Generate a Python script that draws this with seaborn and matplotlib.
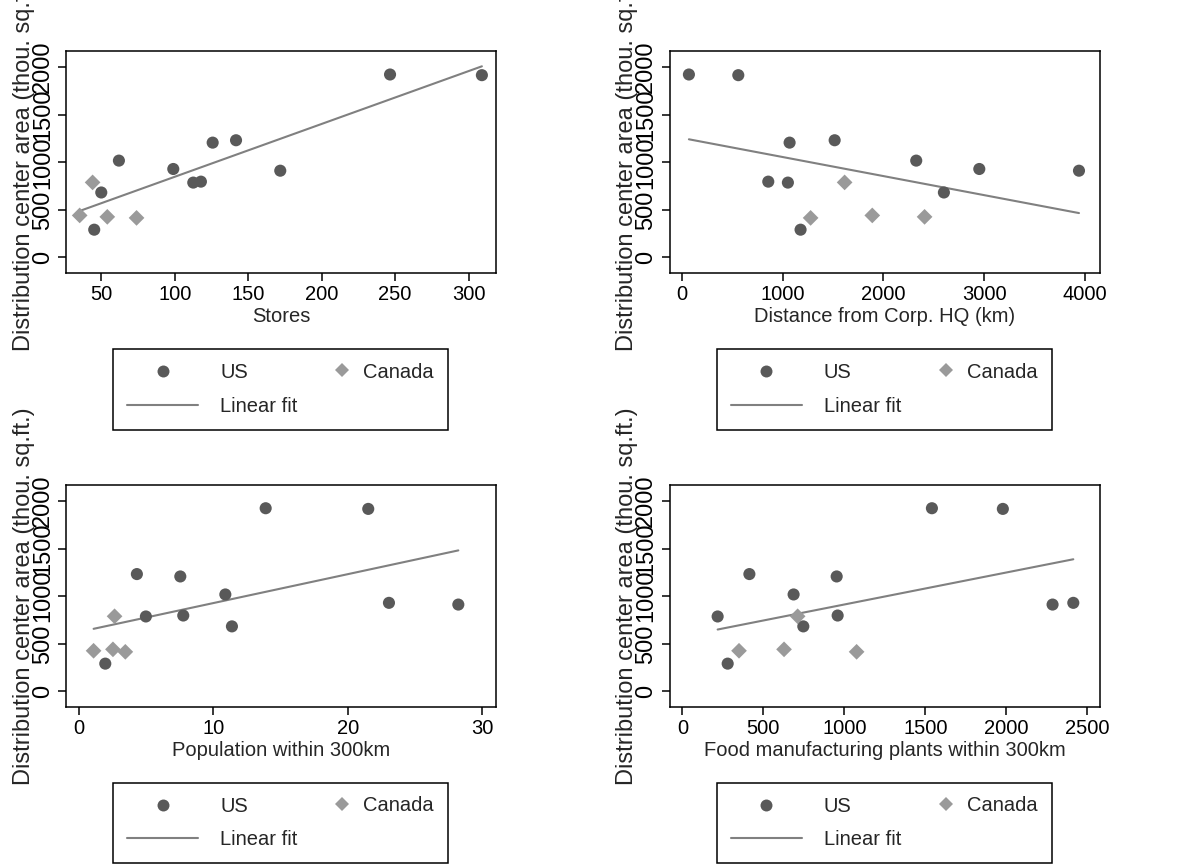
import matplotlib
matplotlib.use("Agg")
import matplotlib.pyplot as plt
from matplotlib.lines import Line2D
import seaborn as sns
import pandas as pd

# ---- data (one entry per distribution center) ----
country = ["US"] * 11 + ["Canada"] * 4
dc_area = [1923, 1916, 1232, 1207, 1018, 930, 912, 797, 787, 683, 292,
           789, 442, 427, 416]
stores = [246.5, 309, 141.7, 125.8, 62, 99, 171.8, 117.8, 112.6, 50, 45.2,
          44.1, 35.3, 54.1, 74.0]
distance_hq = [66, 557, 1515, 1067, 2326, 2953, 3944, 855, 1050, 2601, 1176,
               1614, 1889, 2409, 1276]
population = [13.89, 21.52, 4.31, 7.54, 10.89, 23.06, 28.22, 7.76, 4.98, 11.38, 1.96,
              2.65, 2.53, 1.09, 3.45]
food_plants = [1541, 1979, 414, 953, 687, 2414, 2286, 959, 218, 747, 280,
               712, 628, 350, 1076]

x_labels = ["Stores", "Distance from Corp. HQ (km)",
            "Population within 300km", "Food manufacturing plants within 300km"]
x_ticks = [[50, 100, 150, 200, 250, 300], [0, 1000, 2000, 3000, 4000],
           [0, 10, 20, 30], [0, 500, 1000, 1500, 2000, 2500]]
x_limits = [(26.2, 318.4), (-125, 4150), (-0.94, 31.0), (-78, 2577)]
y_ticks = [0, 500, 1000, 1500, 2000]
y_label = "Distribution center area (thou. sq.ft.)"
legend_labels = ["US", "Canada", "Linear fit"]

df = pd.DataFrame({"country": country, "area": dc_area, "stores": stores,
                   "distance": distance_hq, "population": population,
                   "food": food_plants})
x_cols = ["stores", "distance", "population", "food"]

# ---- style ----
sns.set_style("ticks")
plt.rcParams["font.family"] = ["Liberation Sans", "DejaVu Sans"]
FS = 14.5      # horizontal text
FS_Y = 17      # vertical (rotated) text
plt.rcParams["font.size"] = FS

US_C = "#595959"
CA_C = "#9a9a9a"
FIT_C = "#808080"

W, H = 1187, 864
fig = plt.figure(figsize=(W / 100, H / 100), dpi=100)

# axes rectangles in pixels: (left, top, right, bottom)
rects = [(66.3, 51, 495.7, 272.7), (669.7, 51, 1099.7, 272.7),
         (66.3, 484.7, 495.7, 706.7), (669.7, 484.7, 1099.7, 706.7)]
leg_boxes = [(113.3, 349), (717, 349), (113.3, 782.7), (717, 782.7)]

for i, (l, t, r, b) in enumerate(rects):
    ax = fig.add_axes([l / W, 1 - b / H, (r - l) / W, (b - t) / H])
    sns.scatterplot(data=df, x=x_cols[i], y="area", hue="country", style="country",
                    hue_order=["US", "Canada"], style_order=["US", "Canada"],
                    palette={"US": US_C, "Canada": CA_C},
                    markers={"US": "o", "Canada": "D"},
                    size="country", sizes={"US": 76, "Canada": 64},
                    linewidth=0, legend=False, ax=ax, zorder=3)
    sns.regplot(data=df, x=x_cols[i], y="area", scatter=False, ci=None,
                color=FIT_C, line_kws={"linewidth": 1.5, "zorder": 2}, ax=ax)
    ax.set_xlim(*x_limits[i])
    ax.set_ylim(-160, 2170)
    ax.set_xticks(x_ticks[i])
    ax.set_yticks(y_ticks)
    ax.set_xlabel(x_labels[i], fontsize=FS, labelpad=2)
    ax.set_ylabel(y_label, fontsize=FS_Y, labelpad=-2)
    for s in ax.spines.values():
        s.set_color("black")
        s.set_linewidth(1.1)
    ax.tick_params(axis="both", direction="out", length=6, width=1.1,
                   color="black", labelsize=FS, pad=3, labelcolor="black")
    ax.tick_params(axis="y", labelsize=FS_Y)
    for lab in ax.get_yticklabels():
        lab.set_rotation(90)
        lab.set_va("center")
    ax.set_facecolor("white")

    # legend
    lx, ly = leg_boxes[i]
    h_us = Line2D([], [], marker="o", linestyle="none", color=US_C,
                  markersize=8.6, markeredgewidth=0)
    h_fit = Line2D([], [], color=FIT_C, linewidth=1.5)
    h_ca = Line2D([], [], marker="D", linestyle="none", color=CA_C,
                  markersize=7, markeredgewidth=0)
    leg1 = ax.legend([h_us, h_fit], [legend_labels[0], legend_labels[2]],
                     loc="upper left", mode="expand",
                     bbox_to_anchor=(lx / W, 1 - (ly + 80) / H, 335 / W, 80 / H),
                     bbox_transform=fig.transFigure, borderaxespad=0,
                     borderpad=0.7, handlelength=3.5, handletextpad=1.1,
                     labelspacing=0.72, fontsize=FS, fancybox=False,
                     framealpha=1, edgecolor="black")
    leg1.get_frame().set_linewidth(1.1)
    ax.add_artist(leg1)
    leg2 = ax.legend([h_ca], [legend_labels[1]], loc="center left",
                     bbox_to_anchor=((lx + 215.7) / W, 1 - (ly + 23) / H),
                     bbox_transform=fig.transFigure, borderaxespad=0,
                     borderpad=0, handlelength=1.3, handletextpad=0.4,
                     fontsize=FS, frameon=False)

fig.savefig("out.png", dpi=100, facecolor="white")
